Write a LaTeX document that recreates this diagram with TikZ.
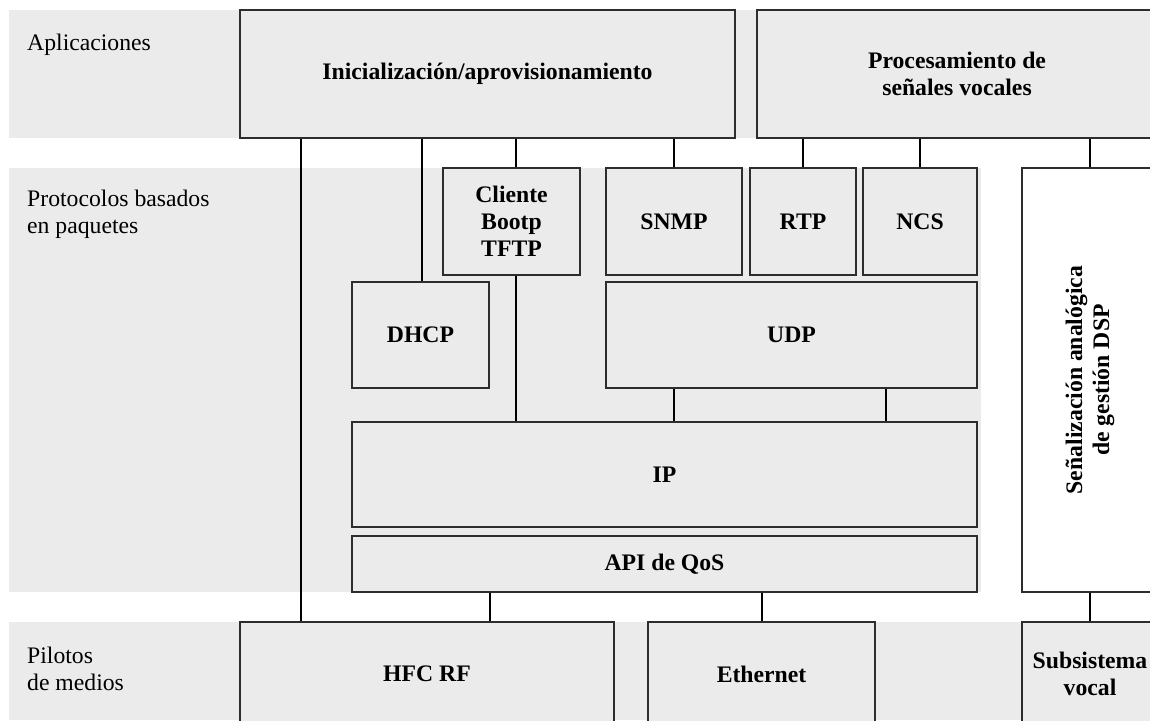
\documentclass[tikz,border=0pt]{standalone}
\usepackage{fontspec}
\setmainfont{Liberation Serif}
\usepackage{tikz}
\usetikzlibrary{positioning}
\definecolor{band}{RGB}{235,235,235}
\definecolor{edge}{RGB}{45,45,45}
\newcommand{\bandrect}[4]{\fill[band] (#1,#2) rectangle (#3,#4);}
\newcommand{\sidelabel}[3]{\node[anchor=base west, align=left, inner sep=0pt] at (#1,#2) {#3};}
\tikzset{
  layer/.style={draw=edge, line width=1.3pt, fill=band,
    font=\fontsize{23.7}{27}\selectfont\bfseries, align=center, inner sep=0pt},
  blank/.style={layer, fill=white},
  link/.style={line width=2pt, black},
}
\begin{document}
\begin{tikzpicture}[x=1pt, y=-1pt, every node/.style={font=\fontsize{23.7}{27}\selectfont}]
\useasboundingbox (0,0) rectangle (1150,720);
% bands
\bandrect{9}{10}{1150}{138}
\bandrect{9}{168}{981}{592}
\bandrect{9}{622}{1150}{720}
\sidelabel{27}{50}{Aplicaciones}
\sidelabel{27}{233}{Protocolos basados\\en paquetes}
\sidelabel{27}{690}{Pilotos\\de medios}
% applications
\node[layer, minimum width=495pt, minimum height=128pt] (ini) at (487.5,74) {Inicialización/aprovisionamiento};
\node[layer, minimum width=400pt, minimum height=128pt] (proc) at (957,74) {Procesamiento de\\señales vocales};
% packet protocols
\node[layer, minimum width=137pt, minimum height=107pt] (cliente) at (511.5,221.5) {Cliente\\Bootp\\TFTP};
\node[layer, minimum width=136pt, minimum height=107pt] (snmp) at (674,221.5) {SNMP};
\node[layer, minimum width=106pt, minimum height=107pt] (rtp) at (803,221.5) {RTP};
\node[layer, minimum width=114pt, minimum height=107pt] (ncs) at (920,221.5) {NCS};
\node[layer, minimum width=137pt, minimum height=106pt] (dhcp) at (420.5,335) {DHCP};
\node[layer, minimum width=371pt, minimum height=106pt] (udp) at (791.5,335) {UDP};
\node[layer, minimum width=625pt, minimum height=105pt] (ip) at (664.5,474.5) {IP};
\node[layer, minimum width=625pt, minimum height=56pt] (qos) at (664.5,564) {API de QoS};
\node[blank, minimum width=136pt, minimum height=424pt] (senal) at (1090,380) {};
\node[font=\fontsize{23.7}{27}\selectfont\bfseries, rotate=90, align=center] (senaltxt) at (senal.center) {Señalización analógica\\de gestión DSP};
% media drivers
\node[layer, minimum width=374pt, minimum height=104pt] (hfc) at (427,674) {HFC RF};
\node[layer, minimum width=227pt, minimum height=104pt] (eth) at (761.5,674) {Ethernet};
\node[layer, minimum width=136pt, minimum height=104pt] (sub) at (1090,674) {Subsistema\\vocal};
% connectors
\draw[link] (ini.south -| 301,0) -- (hfc.north -| 301,0);
\draw[link] (ini.south -| 422,0) -- (dhcp.north -| 422,0);
\draw[link] (ini.south -| 516,0) -- (cliente.north -| 516,0);
\draw[link] (ini.south -| snmp.north) -- (snmp.north);
\draw[link] (proc.south -| rtp.north) -- (rtp.north);
\draw[link] (proc.south -| ncs.north) -- (ncs.north);
\draw[link] (proc.south -| senal.north) -- (senal.north);
\draw[link] (cliente.south -| 516,0) -- (ip.north -| 516,0);
\draw[link] (udp.south -| snmp.south) -- (ip.north -| snmp.south);
\draw[link] (udp.south -| 886,0) -- (ip.north -| 886,0);
\draw[link] (qos.south -| dhcp.east) -- (hfc.north -| dhcp.east);
\draw[link] (qos.south -| eth.north) -- (eth.north);
\draw[link] (senal.south) -- (sub.north);
\end{tikzpicture}
\end{document}
